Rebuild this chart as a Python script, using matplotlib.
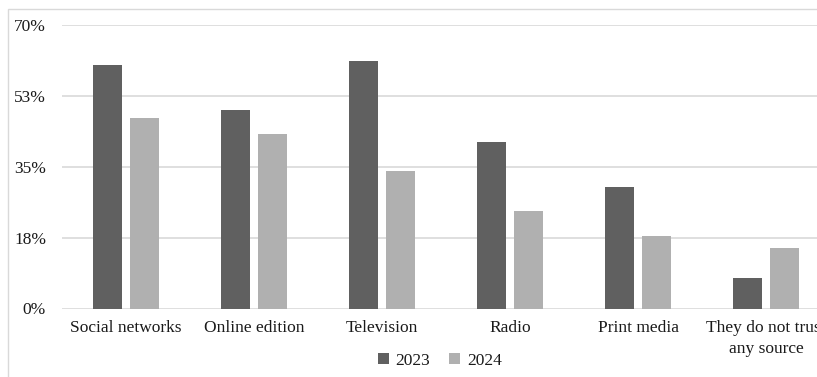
import numpy as np
import matplotlib.pyplot as plt
from matplotlib.patches import Rectangle

plt.rcParams['font.family'] = ['Liberation Serif', 'DejaVu Serif']

categories = ['Social networks', 'Online edition', 'Television', 'Radio',
              'Print media', 'They do not trust\nany source']
share_2023 = [60, 49, 61, 41, 30, 7.5]
share_2024 = [47, 43, 34, 24, 18, 15]
ytick_vals = [0, 17.5, 35, 52.5, 70]
ytick_labels = ['0%', '18%', '35%', '53%', '70%']

W, H = 817, 377
fig = plt.figure(figsize=(W / 100, H / 100), dpi=100)
# plot area runs past the right edge of the figure
ax = fig.add_axes([62 / W, 68.5 / H, (830 - 62) / W, (308.5 - 24.7) / H])

x = np.arange(len(categories))
w = 0.225
gap = 0.0625
ax.bar(x - (w + gap) / 2, share_2023, width=w, color='#606060', label='2023', zorder=3)
ax.bar(x + (w + gap) / 2, share_2024, width=w, color='#b0b0b0', label='2024', zorder=3)

ax.set_xlim(-0.5, len(categories) - 0.5)
ax.set_ylim(0, 70)
ax.set_yticks(ytick_vals)
ax.set_yticklabels(ytick_labels)
ax.set_xticks(x)
ax.set_xticklabels(categories, linespacing=1.45)
ax.yaxis.grid(True, color='#d9d9d9', linewidth=1.2, zorder=0)
ax.tick_params(axis='both', length=0, labelsize=12.5, colors='#1a1a1a')
ax.tick_params(axis='y', pad=11.5)
ax.tick_params(axis='x', pad=8)
for s in ax.spines.values():
    s.set_visible(False)

fig.legend(loc='center', bbox_to_anchor=(440 / W, 1 - 361 / H), ncol=2, frameon=False,
           fontsize=12.5, handlelength=0.6, handleheight=0.6, handletextpad=0.4,
           columnspacing=1.1, labelcolor='#1a1a1a')

# light frame around the chart
fig.patches.append(Rectangle((8 / W, -0.2), 1.2, 1.2 - 9 / H, transform=fig.transFigure,
                             fill=False, edgecolor='#d9d9d9', linewidth=1.0))

fig.savefig('out.png', dpi=100)
